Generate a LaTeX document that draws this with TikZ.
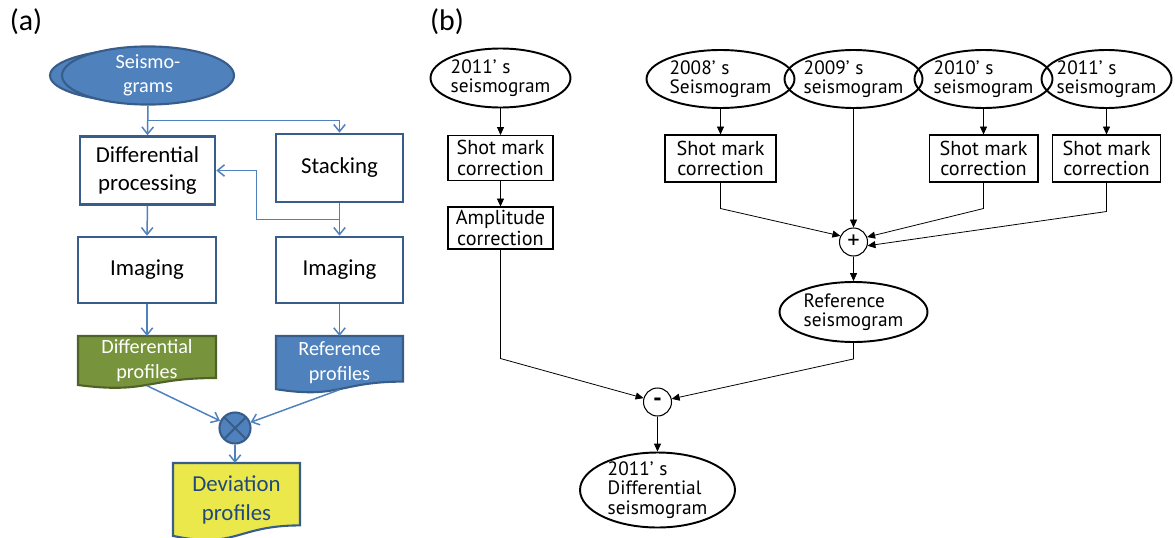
\documentclass[tikz,border=0pt]{standalone}
\usepackage{fontspec}
\setmainfont{Carlito}
\newfontfamily\ptsans{PT Sans}
\usetikzlibrary{shapes,arrows.meta,positioning,calc,backgrounds}
\definecolor{officeblue}{HTML}{4F81BD}
\definecolor{darkblue}{HTML}{385D8A}
\definecolor{olive}{HTML}{77933C}
\definecolor{darkolive}{HTML}{4F6228}
\definecolor{docyellow}{HTML}{EBE84C}
\definecolor{navytext}{HTML}{1F497D}

\begin{document}
\begin{tikzpicture}[x=0.02cm, y=-0.02cm,
  abox/.style={draw=darkblue, line width=1.5pt, fill=white, minimum width=2.7cm, minimum height=1.36cm, align=center, font=\fontsize{13}{15.5}\selectfont},
  aline/.style={draw=officeblue, line width=0.85pt, -{Straight Barb[length=4pt,width=6.5pt]}},
  doctext/.style={anchor=north, inner sep=0pt, align=center},
  bell/.style={ellipse, draw, line width=1.1pt, inner sep=-3pt, align=left, font=\ptsans\fontsize{11}{11}\selectfont},
  bbox/.style={draw, line width=0.6pt, inner sep=2pt, minimum height=0.9cm, align=center, font=\ptsans\fontsize{11.5}{11.5}\selectfont},
  bline/.style={line width=0.45pt, -{Triangle[length=4.5pt,width=4pt]}},
  bop/.style={circle, draw, line width=0.6pt, minimum size=0.56cm, inner sep=0pt, font=\ptsans\fontsize{14}{14}\selectfont}
]
\useasboundingbox (0,0) rectangle (1175,537);

% (a)
\node[font=\fontsize{17}{20}\selectfont] (la) at (26,22) {(a)};

\fill[officeblue, draw=darkblue, line width=1.2pt] (141,75.5) ellipse [x radius=1.82cm, y radius=0.53cm];
\node[ellipse, fill=officeblue, draw=darkblue, line width=1.2pt, minimum width=3.44cm, minimum height=0.94cm, inner sep=0pt, text=white, align=center, font=\fontsize{11.5}{13.5}\selectfont] (seis) at (148,75.5) {Seismo-\\grams};

\node[abox] (diff) at (147.5,170.5) {Differential\\processing};
\node[abox, minimum width=2.54cm] (stack) at (339.5,168) {Stacking};
\node[abox, minimum width=2.76cm, minimum height=1.32cm] (iml) at (147,270) {Imaging};
\node[abox, minimum width=2.54cm, minimum height=1.32cm] (imr) at (339.5,270) {Imaging};

\filldraw[fill=olive, draw=darkolive, line width=1.2pt] (78,336) -- (216,336) -- (216,378) .. controls (147,378) and (147,394.1) .. (78,385) -- cycle;
\node[doctext, text=white, minimum width=2.76cm, minimum height=0.98cm, font=\fontsize{11.5}{14}\selectfont] (dp) at (147,336) {Differential\\profiles};

\filldraw[fill=officeblue, draw=darkblue, line width=1.2pt] (276,336) -- (403,336) -- (403,381.6) .. controls (339.5,381.6) and (339.5,399.1) .. (276,389.2) -- cycle;
\node[doctext, text=white, minimum width=2.54cm, minimum height=1.06cm, font=\fontsize{11.5}{14}\selectfont] (rp) at (339.5,336) {Reference\\profiles};

\node[circle, fill=officeblue, draw=darkblue, line width=1.2pt, minimum size=0.62cm, inner sep=0pt,
  path picture={\draw[darkblue, line width=1.2pt] (path picture bounding box.north west) -- (path picture bounding box.south east)
  (path picture bounding box.north east) -- (path picture bounding box.south west);}] (xop) at (235,428) {};

\filldraw[fill=docyellow, draw=darkblue, line width=1.2pt] (173,463) -- (300,463) -- (300,525.4) .. controls (236.5,525.4) and (236.5,549.3) .. (173,535.9) -- cycle;
\node[doctext, text=navytext, minimum width=2.54cm, minimum height=1.45cm, font=\fontsize{13}{16.5}\selectfont] (dev) at (236.5,463) {Deviation\\profiles};

\draw[aline] (seis.south) -- (diff.north);
\draw[aline] ($(seis.south)!0.5!(diff.north)$) -| (stack.north);
\draw[aline] (stack.south) -- (imr.north);
\draw[aline] ($(stack.south)!0.5!(imr.north)$) -- ++(-83,0) |- (diff.east);
\draw[aline] (diff.south) -- (iml.north);
\draw[aline] (iml.south) -- (dp.north);
\draw[aline] (imr.south) -- (rp.north);
\draw[aline] (dp.south) -- (xop);
\draw[aline] (rp.south) -- (xop);
\draw[aline] (xop.south) -- (xop.south |- dev.north);

% (b)
\node[font=\fontsize{17}{20}\selectfont] (lb) at (447,22) {(b)};

\node[bell, minimum width=2.8cm, minimum height=1.18cm] (s11a) at (500.5,78) {2011’\hspace{0.3em}s\\seismogram};
\node[bbox, minimum width=2.1cm] (sm1) at (500.5,158) {Shot mark\\correction};
\node[bbox, minimum width=2.1cm, minimum height=0.84cm] (amp) at (500.5,228) {Amplitude\\correction};

\node[bell, minimum width=2.96cm, minimum height=1.16cm] (s08) at (720.5,79) {2008’\hspace{0.3em}s\\Seismogram};
\node[bell, minimum width=2.76cm, minimum height=1.16cm] (s09) at (853.5,79) {2009’\hspace{0.3em}s\\seismogram};
\node[bell, minimum width=2.76cm, minimum height=1.16cm] (s10) at (983.5,79) {2010’\hspace{0.3em}s\\seismogram};
\node[bell, minimum width=2.6cm, minimum height=1.16cm] (s11b) at (1106.5,79) {2011’\hspace{0.3em}s\\seismogram};

\node[bbox, minimum width=2.22cm, minimum height=0.94cm] (sm08) at (720.5,158.5) {Shot mark\\correction};
\node[bbox, minimum width=2.18cm, minimum height=0.94cm] (sm10) at (983.5,158.5) {Shot mark\\correction};
\node[bbox, minimum width=2.16cm, minimum height=0.94cm] (sm11) at (1106.5,158.5) {Shot mark\\correction};

\node[bop] (plus) at (853.5,242) {+};
\node[bell, minimum width=2.96cm, minimum height=1.2cm] (ref) at (853.5,312) {Reference\\seismogram};
\node[bop] (minus) at (657.5,402) {\textbf{-}};
\node[bell, minimum width=3.1cm, minimum height=1.5cm] (d11) at (657.5,490) {2011’\hspace{0.3em}s\\Differential\\seismogram};

\draw[bline] (s11a) -- (sm1);
\draw[bline] (sm1) -- (amp);
\draw[bline] (amp.south) -- ++(0,109) -- (minus);
\draw[bline] (s08) -- (sm08);
\draw[bline] (s10) -- (sm10);
\draw[bline] (s11b) -- (sm11);
\draw[bline] (s09) -- (plus);
\draw[bline] (sm08.south) -- ++(0,26) -- (plus.155);
\draw[bline] (sm10.south) -- ++(0,26) -- (plus.20);
\draw[bline] (sm11.south) -- ++(0,29) -- (plus.-15);
\draw[bline] (plus) -- (ref);
\draw[bline] (ref.south) -- ++(0,16) -- (minus);
\draw[bline] (minus) -- (d11);
\end{tikzpicture}
\end{document}
